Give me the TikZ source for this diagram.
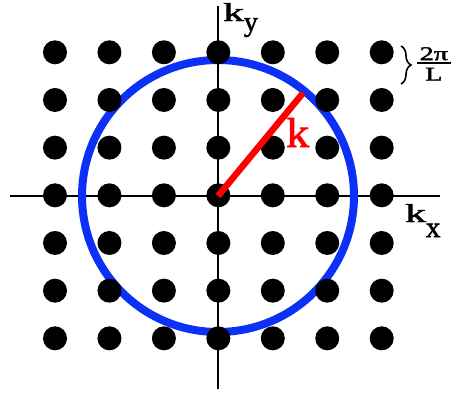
\documentclass[tikz,border=0pt]{standalone}
\usepackage{fontspec}
\setmainfont{Liberation Serif}
\newfontfamily\heavyserif[FakeBold=1.8]{Liberation Serif}
\usetikzlibrary{decorations.pathreplacing}
\definecolor{fblue}{RGB}{12,48,245}
\definecolor{kred}{RGB}{255,0,0}
\begin{document}
\begin{tikzpicture}[x=1bp,y=-1bp,
  dotnode/.style={circle,fill=black,inner sep=0pt,minimum size=24bp},
  axisline/.style={line width=2bp,black},
  fermi/.style={line width=8bp,fblue},
  kvec/.style={line width=6.5bp,kred},
  lbl/.style={inner sep=0pt,anchor=base west,font=\heavyserif},
  bracestyle/.style={line width=1.6bp,decorate,decoration={brace,amplitude=10bp}}]
\useasboundingbox (0,0) rectangle (456,395);
\coordinate (O) at (218,196);
\coordinate (xl) at (10,196);
\coordinate (xr) at (440,196);
\coordinate (yt) at (218,6);
\coordinate (yb) at (218,389);
\coordinate (kend) at (303,93);
\coordinate (bt) at (401,46);
\coordinate (bb) at (401,84);
% axes
\draw[axisline] (xl) -- (xr);
\draw[axisline] (yt) -- (yb);
% circle
\draw[fermi] (O) circle[radius=136];
% dots
\foreach \i in {0,...,6}{
  \foreach \j in {0,...,6}{
    \node[dotnode] (d\i\j) at ({55+54.45*\i},{52.3+47.67*\j}) {};
  }
}
% k vector
\draw[kvec] (O) -- (kend);
% labels
\node[lbl] (ky) at (223,21) {\fontsize{26}{26}\selectfont\scalebox{1.6}[1]{k}{\fontsize{28}{28}\selectfont\raisebox{-10bp}{y}}};
\node[lbl] (kx) at (405,222) {\fontsize{26}{26}\selectfont\scalebox{1.6}[1]{k}{\fontsize{29}{29}\selectfont\raisebox{-15bp}{x}}};
\node[lbl,text=kred] (klbl) at (286,147) {\fontsize{42}{42}\selectfont\scalebox{1.1}[1]{k}};
\draw[bracestyle] (bt) -- (bb);
\node[lbl] (frac) at (417,80.5) {\fontsize{19.5}{19}\selectfont\scalebox{1.45}[1]{\vbox{\hbox to 23bp{\hss 2π\hss}\kern1.8bp\hrule height 1.5bp\kern4.2bp\hbox to 23bp{\hss L\hss}}}};
\end{tikzpicture}
\end{document}
